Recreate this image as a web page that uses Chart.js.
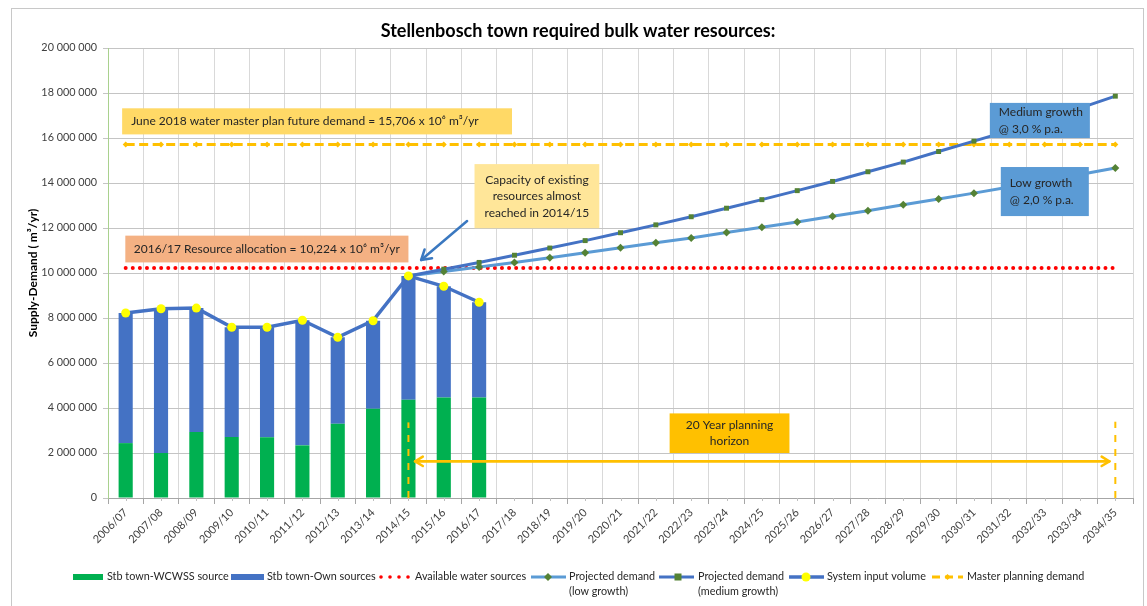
<!DOCTYPE html>
<html>
<head>
<meta charset="utf-8">
<script src="https://cdn.jsdelivr.net/npm/chart.js"></script>
<style>
  html, body { margin: 0; padding: 0; background: #fff; }
  #wrap { width: 1147px; height: 606px; }
</style>
</head>
<body>
<div id="wrap"><canvas id="waterChart" width="1147" height="606"></canvas></div>
<script>
// ---------- data ----------
const categories = ['2006/07','2007/08','2008/09','2009/10','2010/11','2011/12','2012/13','2013/14','2014/15','2015/16',
    '2016/17','2017/18','2018/19','2019/20','2020/21','2021/22','2022/23','2023/24','2024/25','2025/26',
    '2026/27','2027/28','2028/29','2029/30','2030/31','2031/32','2032/33','2033/34','2034/35'];

const wcwssSource  = [2440000, 2000000, 2930000, 2710000, 2700000, 2340000, 3300000, 3970000, 4370000, 4470000, 4470000];
const ownSources   = [5780000, 6410000, 5510000, 4880000, 4890000, 5560000, 3840000, 3910000, 5500000, 4940000, 4230000];
const systemInput  = [8220000, 8410000, 8440000, 7590000, 7590000, 7900000, 7140000, 7880000, 9870000, 9410000, 8700000];

const lowGrowth = [null, null, null, null, null, null, null, null,
    9870000, 10070000, 10270000, 10470000, 10680000, 10900000, 11120000, 11340000, 11560000, 11800000, 12030000,
    12270000, 12520000, 12770000, 13030000, 13290000, 13550000, 13820000, 14100000, 14380000, 14670000];
const mediumGrowth = [null, null, null, null, null, null, null, null,
    9870000, 10170000, 10470000, 10790000, 11110000, 11440000, 11790000, 12140000, 12500000, 12880000, 13260000,
    13660000, 14070000, 14500000, 14930000, 15400000, 15860000, 16330000, 16820000, 17330000, 17860000];

const availableWater   = 10224000;   // 2016/17 resource allocation
const masterPlanDemand = 15706000;   // June 2018 master plan

const yTicks = { min: 0, max: 20000000, step: 2000000 };

// ---------- colours / fonts ----------
const GREEN = '#00B050', BLUE = '#4472C4', LIGHTBLUE = '#5B9BD5', RED = '#FF0000',
      ORANGE = '#FFC000', MARKGREEN = '#548235', YELLOW = '#FFFF00';
const FONT = 'Lato, "Liberation Sans", sans-serif';

// annotation boxes, placed in axis units (category index, m3/yr)
const noteBoxes = [
    { x0: -0.1, x1: 10.93, y0: 17320000, y1: 16160000, fill: '#FFD966', align: 'left', pad: 9,
      lines: ['June 2018 water master plan future demand = 15,706 x 10⁶ m³/yr'] },
    { x0: -0.01, x1: 8.0, y0: 11660000, y1: 10470000, fill: '#F4B183', align: 'center',
      lines: ['2016/17 Resource allocation = 10,224 x 10⁶ m³/yr'] },
    { x0: 9.87, x1: 13.4, y0: 14840000, y1: 11990000, fill: '#FFE699', align: 'center',
      lines: ['Capacity of existing', 'resources almost', 'reached in 2014/15'] },
    { x0: 24.45, x1: 27.28, y0: 17560000, y1: 16000000, fill: LIGHTBLUE, align: 'left', pad: 9,
      lines: ['Medium growth', '@ 3,0 % p.a.'] },
    { x0: 24.76, x1: 27.25, y0: 14710000, y1: 12530000, fill: LIGHTBLUE, align: 'left', pad: 9,
      lines: ['Low growth', '@ 2,0 % p.a.'] },
    { x0: 15.39, x1: 18.78, y0: 3760000, y1: 2000000, fill: ORANGE, align: 'center',
      lines: ['20 Year planning', 'horizon'] }
];

function fmtSpace(v) {
    return String(v).replace(/\B(?=(\d{3})+(?!\d))/g, ' ');
}

function drawArrow(ctx, x0, y0, x1, y1, color, w, head) {
    ctx.save();
    ctx.strokeStyle = color;
    ctx.lineWidth = w;
    ctx.lineCap = 'round';
    ctx.lineJoin = 'round';
    ctx.beginPath();
    ctx.moveTo(x0, y0);
    ctx.lineTo(x1, y1);
    ctx.stroke();
    let a = Math.atan2(y1 - y0, x1 - x0);
    ctx.beginPath();
    ctx.moveTo(x1 - head * Math.cos(a - 0.55), y1 - head * Math.sin(a - 0.55));
    ctx.lineTo(x1, y1);
    ctx.lineTo(x1 - head * Math.cos(a + 0.55), y1 - head * Math.sin(a + 0.55));
    ctx.stroke();
    ctx.restore();
}

// ---------- extra drawing: frame, notes, arrows, title, legend ----------
const decorPlugin = {
    id: 'decor',
    beforeDraw(chart) {
        const ctx = chart.ctx;
        ctx.save();
        ctx.fillStyle = '#fff';
        ctx.fillRect(0, 0, chart.width, chart.height);
        ctx.strokeStyle = '#C8C8C8';
        ctx.lineWidth = 1;
        ctx.strokeRect(11.5, 8.5, 1132, 640);
        ctx.restore();
    },
    afterDatasetsDraw(chart) {
        const ctx = chart.ctx;
        const xs = chart.scales.x, ys = chart.scales.y;
        const X = v => xs.getPixelForValue(v), Y = v => ys.getPixelForValue(v);

        // minor ticks at category centres
        ctx.save();
        ctx.strokeStyle = '#BFBFBF';
        ctx.lineWidth = 1;
        for (let i = 0; i < categories.length; i++) {
            let x = Math.round(X(i)) + 0.5;
            ctx.beginPath(); ctx.moveTo(x, ys.bottom); ctx.lineTo(x, ys.bottom + 3); ctx.stroke();
        }
        ctx.restore();

        // planning horizon: dashed verticals + double arrow
        ctx.save();
        ctx.strokeStyle = ORANGE;
        ctx.lineWidth = 2;
        ctx.setLineDash([7, 7]);
        [[8, 3360000], [28, 3390000]].forEach(([i, top]) => {
            ctx.beginPath(); ctx.moveTo(X(i), Y(0)); ctx.lineTo(X(i), Y(top)); ctx.stroke();
        });
        ctx.restore();
        const ay = Y(1630000);
        drawArrow(ctx, X(27.83), ay, X(8.19), ay, ORANGE, 2.5, 9);
        drawArrow(ctx, X(8.19), ay, X(27.83), ay, ORANGE, 2.5, 9);

        // capacity arrow
        drawArrow(ctx, X(9.66), Y(12310000), X(8.36), Y(10580000), '#3A78C0', 2.5, 11);

        // note boxes
        noteBoxes.forEach(b => {
            let l = X(b.x0), r = X(b.x1), t = Y(b.y0), bt = Y(b.y1);
            ctx.save();
            ctx.fillStyle = b.fill;
            ctx.fillRect(l, t, r - l, bt - t);
            ctx.fillStyle = '#262626';
            ctx.font = '12px ' + FONT;
            ctx.textBaseline = 'middle';
            ctx.textAlign = b.align;
            let lh = 16.5;
            let cy = (t + bt) / 2 - (b.lines.length - 1) * lh / 2;
            let tx = b.align === 'left' ? l + b.pad : (l + r) / 2;
            b.lines.forEach((s, k) => ctx.fillText(s, tx, cy + k * lh));
            ctx.restore();
        });
    },
    afterDraw(chart) {
        const ctx = chart.ctx;
        ctx.save();
        // title
        ctx.fillStyle = '#000';
        ctx.font = 'bold 18px ' + FONT;
        ctx.textAlign = 'center';
        ctx.textBaseline = 'middle';
        ctx.fillText('Stellenbosch town required bulk water resources:', 578, 31);

        // legend
        const ly = 577, ly2 = 592;
        ctx.font = '10.8px ' + FONT;
        ctx.textAlign = 'left';
        ctx.fillStyle = GREEN; ctx.fillRect(73, ly - 3, 30, 6);
        ctx.fillStyle = BLUE;  ctx.fillRect(231, ly - 3, 33, 6);
        ctx.fillStyle = RED;
        [381, 390, 399, 408].forEach(x => { ctx.beginPath(); ctx.arc(x, ly, 1.8, 0, Math.PI * 2); ctx.fill(); });

        ctx.lineWidth = 3;
        ctx.strokeStyle = LIGHTBLUE;
        ctx.beginPath(); ctx.moveTo(531, ly); ctx.lineTo(566, ly); ctx.stroke();
        ctx.fillStyle = MARKGREEN;
        ctx.beginPath(); ctx.moveTo(548, ly - 4); ctx.lineTo(552, ly); ctx.lineTo(548, ly + 4); ctx.lineTo(544, ly); ctx.closePath(); ctx.fill();

        ctx.strokeStyle = BLUE;
        ctx.beginPath(); ctx.moveTo(659, ly); ctx.lineTo(694, ly); ctx.stroke();
        ctx.fillStyle = MARKGREEN; ctx.fillRect(674.5, ly - 3.5, 7, 7);

        ctx.strokeStyle = BLUE; ctx.lineWidth = 3.5;
        ctx.beginPath(); ctx.moveTo(789, ly); ctx.lineTo(824, ly); ctx.stroke();
        ctx.fillStyle = YELLOW;
        ctx.beginPath(); ctx.arc(806, ly, 4.5, 0, Math.PI * 2); ctx.fill();

        ctx.strokeStyle = ORANGE; ctx.lineWidth = 3;
        ctx.setLineDash([8, 5]);
        ctx.beginPath(); ctx.moveTo(932, ly); ctx.lineTo(963, ly); ctx.stroke();
        ctx.setLineDash([]);
        ctx.fillStyle = ORANGE;
        ctx.beginPath(); ctx.moveTo(947.5, ly - 3); ctx.lineTo(950.5, ly); ctx.lineTo(947.5, ly + 3); ctx.lineTo(944.5, ly); ctx.closePath(); ctx.fill();

        ctx.fillStyle = '#262626';
        ctx.textBaseline = 'middle';
        ctx.fillText('Stb town-WCWSS source', 107, ly);
        ctx.fillText('Stb town-Own sources', 267, ly);
        ctx.fillText('Available water sources', 415, ly);
        ctx.fillText('Projected demand', 569, ly);
        ctx.fillText('(low growth)', 569, ly2);
        ctx.fillText('Projected demand', 698, ly);
        ctx.fillText('(medium growth)', 698, ly2);
        ctx.fillText('System input volume', 827, ly);
        ctx.fillText('Master planning demand', 967, ly);
        ctx.restore();
    }
};

new Chart(document.getElementById('waterChart').getContext('2d'), {
    type: 'bar',
    data: {
        labels: categories,
        datasets: [
            { label: 'Stb town-WCWSS source', data: wcwssSource, backgroundColor: GREEN,
              stack: 'bars', order: 10, categoryPercentage: 1, barPercentage: 0.4 },
            { label: 'Stb town-Own sources', data: ownSources, backgroundColor: BLUE,
              stack: 'bars', order: 10, categoryPercentage: 1, barPercentage: 0.4 },
            { type: 'line', label: 'Available water sources', data: categories.map(() => availableWater),
              stack: 'l1', borderColor: RED, borderWidth: 4, borderDash: [0, 7.1], borderCapStyle: 'round',
              pointRadius: 0, order: 6 },
            { type: 'line', label: 'Master planning demand', data: categories.map(() => masterPlanDemand),
              stack: 'l2', borderColor: ORANGE, borderWidth: 3, borderDash: [9, 4.5],
              pointStyle: 'rectRot', pointRadius: 3, pointBackgroundColor: ORANGE, pointBorderWidth: 0, order: 5 },
            { type: 'line', label: 'Projected demand (low growth)', data: lowGrowth,
              stack: 'l3', borderColor: LIGHTBLUE, borderWidth: 3,
              pointStyle: 'rectRot', pointRadius: 4, pointBackgroundColor: MARKGREEN, pointBorderWidth: 0, order: 3 },
            { type: 'line', label: 'Projected demand (medium growth)', data: mediumGrowth,
              stack: 'l4', borderColor: BLUE, borderWidth: 3,
              pointStyle: 'rect', pointRadius: 3.5, pointBackgroundColor: MARKGREEN, pointBorderWidth: 0, order: 2 },
            { type: 'line', label: 'System input volume', data: systemInput,
              stack: 'l5', borderColor: BLUE, borderWidth: 3.5,
              pointStyle: 'circle', pointRadius: 4.5, pointBackgroundColor: YELLOW, pointBorderWidth: 0, order: 1 }
        ]
    },
    options: {
        responsive: false,
        animation: false,
        layout: { padding: { top: 48, right: 14, left: 0, bottom: 0 } },
        plugins: { legend: { display: false }, tooltip: { enabled: false }, title: { display: false } },
        scales: {
            x: {
                stacked: true,
                grid: { color: '#D9D9D9', offset: true, tickLength: 6, tickColor: '#A6A6A6' },
                border: { color: '#A6A6A6' },
                ticks: { autoSkip: false, minRotation: 45, maxRotation: 45, color: '#404040',
                         font: { family: FONT, size: 11 }, padding: 2 },
                afterFit(scale) { scale.height = 108; }
            },
            y: {
                stacked: true,
                min: yTicks.min, max: yTicks.max,
                grid: { color: '#C4C4C4', tickLength: 5 },
                border: { color: '#A9D18E' },
                ticks: { stepSize: yTicks.step, color: '#404040', font: { family: FONT, size: 10.8 }, padding: 6,
                         callback: v => fmtSpace(v) },
                title: { display: true, text: 'Supply-Demand ( m³/yr)', color: '#000',
                         font: { family: FONT, size: 12, weight: 'bold' }, padding: { top: 26, bottom: 0 } },
                afterFit(scale) { scale.width = 108; }
            }
        }
    },
    plugins: [decorPlugin]
});
</script>
</body>
</html>
